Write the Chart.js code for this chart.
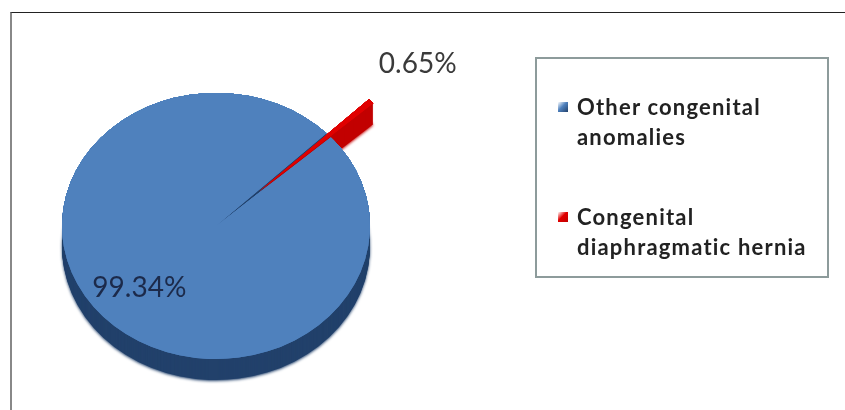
<!DOCTYPE html>
<html>
<head>
<meta charset="utf-8">
<script src="https://cdn.jsdelivr.net/npm/chart.js@4.4.1/dist/chart.umd.min.js"></script>
<style>
    html, body { margin: 0; padding: 0; background: #fff; }
    #wrap { position: relative; width: 845px; height: 410px; overflow: hidden; font-family: Lato, "Noto Sans", sans-serif; }
    #frame { position: absolute; left: 10px; top: 12px; width: 900px; height: 500px; border-top: 1.5px solid #222; border-left: 2px solid #888; }
    #pieChart { position: absolute; left: 0; top: 0; }
    #legend { position: absolute; left: 535px; top: 57px; width: 294px; height: 221px; border: 2px solid #8d9b9b; padding-top: 33px; box-sizing: border-box; }
    .item { position: relative; padding-left: 40px; font-size: 22px; font-weight: 700; letter-spacing: 1.2px; line-height: 30px; color: #222; width: 262px; margin-bottom: 50px; }
    .swatch { position: absolute; left: 21px; top: 10px; width: 10px; height: 10px; }
</style>
</head>
<body>
<div id="wrap">
    <div id="frame"></div>
    <canvas id="pieChart" width="845" height="410"></canvas>
    <div id="legend"></div>
</div>
<script>
const categories = ['Other congenital anomalies', 'Congenital diaphragmatic hernia'];
const percentages = [99.34, 0.65];

const topColors = ['#4f81bd', '#e00000'];
const sideColors = ['#22416b', '#c20000'];
const labelColors = ['#1c2a4a', '#3a3a3a'];
// how far each slice is pulled out of the pie (px)
const explode = [0, 58];
// how far out each value label sits, as a share of the radius
const labelReach = [0.68, 1.79];

const squash = 0.864;   // flattening of the pie into an ellipse
const depth = 22;       // thickness of the pie edge

function midAngle(el) {
    return (el.startAngle + el.endAngle) / 2;
}

const tiltedPie = {
    id: 'tiltedPie',
    beforeDatasetsDraw(chart) {
        const ctx = chart.ctx;
        const arcs = chart.getDatasetMeta(0).data;
        const cx = arcs[0].x, cy = arcs[0].y;

        ctx.save();
        ctx.translate(cx, cy);
        ctx.scale(1, squash);
        ctx.translate(-cx, -cy);

        // side walls: the slice's shadow stacked at every step down to the full depth
        for (let d = depth; d >= 1; d--) {
            arcs.forEach((el, i) => {
                const a = midAngle(el);
                ctx.save();
                ctx.translate(Math.cos(a) * explode[i], Math.sin(a) * explode[i]);
                ctx.shadowColor = sideColors[i];
                ctx.shadowOffsetY = d;
                ctx.shadowBlur = d === depth ? 3 : 0;
                el.draw(ctx);
                ctx.restore();
            });
        }

        // top faces
        arcs.forEach((el, i) => {
            const a = midAngle(el);
            ctx.save();
            ctx.translate(Math.cos(a) * explode[i], Math.sin(a) * explode[i]);
            el.draw(ctx);
            ctx.restore();
        });

        ctx.restore();
        return false;
    },
    afterDraw(chart) {
        const ctx = chart.ctx;
        const meta = chart.getDatasetMeta(0);
        ctx.save();
        ctx.font = '28px Lato';
        ctx.textAlign = 'center';
        ctx.textBaseline = 'middle';
        meta.data.forEach((el, i) => {
            const a = midAngle(el);
            const r = el.outerRadius * labelReach[i];
            const x = el.x + Math.cos(a) * r;
            const y = el.y + Math.sin(a) * r * squash;
            ctx.fillStyle = labelColors[i];
            ctx.fillText(percentages[i].toFixed(2) + '%', x, y);
        });
        ctx.restore();
    }
};

new Chart(document.getElementById('pieChart'), {
    type: 'pie',
    data: {
        labels: categories,
        datasets: [{
            data: percentages,
            backgroundColor: topColors,
            borderWidth: 0
        }]
    },
    options: {
        responsive: false,
        animation: false,
        events: [],
        rotation: 48.2,
        radius: 154,
        layout: { padding: { left: 20, right: 433, top: 42, bottom: 0 } },
        plugins: {
            legend: { display: false },
            tooltip: { enabled: false }
        }
    },
    plugins: [tiltedPie]
});

// legend box
const legend = document.getElementById('legend');
categories.forEach((name, i) => {
    const item = document.createElement('div');
    item.className = 'item';
    item.textContent = name;
    const sw = document.createElement('span');
    sw.className = 'swatch';
    sw.style.background = 'linear-gradient(135deg, #fff 0%, ' + topColors[i] + ' 45%, ' + sideColors[i] + ' 100%)';
    item.appendChild(sw);
    legend.appendChild(item);
});
</script>
</body>
</html>
